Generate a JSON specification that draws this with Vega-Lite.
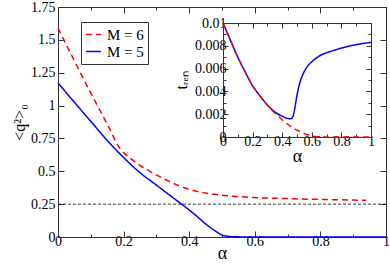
{
  "$schema": "https://vega.github.io/schema/vega-lite/v6.json",
  "autosize": "none",
  "padding": {"left": 58, "top": 7, "right": 4, "bottom": 28},
  "width": 328,
  "height": 230,
  "config": {
    "font": "Liberation Serif, Times New Roman, serif",
    "view": {"stroke": null},
    "axis": {"grid": false, "domainColor": "#333", "tickColor": "#333", "labelColor": "#000", "titleColor": "#000", "labelFont": "Liberation Serif, Times New Roman, serif", "titleFont": "Liberation Serif, Times New Roman, serif", "titleFontWeight": "normal", "labelFlush": false, "labelOverlap": false},
    "legend": {"labelFont": "Liberation Serif, Times New Roman, serif"}
  },
  "datasets": {
    "main": [
      {"alpha": 0, "q": 1.59, "M": "M = 6"},
      {"alpha": 0.05, "q": 1.34, "M": "M = 6"},
      {"alpha": 0.1, "q": 1.095, "M": "M = 6"},
      {"alpha": 0.15, "q": 0.86, "M": "M = 6"},
      {"alpha": 0.19, "q": 0.67, "M": "M = 6"},
      {"alpha": 0.22, "q": 0.6, "M": "M = 6"},
      {"alpha": 0.25, "q": 0.545, "M": "M = 6"},
      {"alpha": 0.28, "q": 0.5, "M": "M = 6"},
      {"alpha": 0.3, "q": 0.472, "M": "M = 6"},
      {"alpha": 0.35, "q": 0.41, "M": "M = 6"},
      {"alpha": 0.4, "q": 0.362, "M": "M = 6"},
      {"alpha": 0.45, "q": 0.335, "M": "M = 6"},
      {"alpha": 0.5, "q": 0.318, "M": "M = 6"},
      {"alpha": 0.6, "q": 0.3, "M": "M = 6"},
      {"alpha": 0.7, "q": 0.292, "M": "M = 6"},
      {"alpha": 0.8, "q": 0.286, "M": "M = 6"},
      {"alpha": 0.9, "q": 0.281, "M": "M = 6"},
      {"alpha": 0.94, "q": 0.279, "M": "M = 6"},
      {"alpha": 0, "q": 1.172, "M": "M = 5"},
      {"alpha": 0.05, "q": 1.025, "M": "M = 5"},
      {"alpha": 0.1, "q": 0.88, "M": "M = 5"},
      {"alpha": 0.15, "q": 0.735, "M": "M = 5"},
      {"alpha": 0.2, "q": 0.605, "M": "M = 5"},
      {"alpha": 0.245, "q": 0.5, "M": "M = 5"},
      {"alpha": 0.3, "q": 0.395, "M": "M = 5"},
      {"alpha": 0.35, "q": 0.3, "M": "M = 5"},
      {"alpha": 0.377, "q": 0.25, "M": "M = 5"},
      {"alpha": 0.42, "q": 0.165, "M": "M = 5"},
      {"alpha": 0.45, "q": 0.1, "M": "M = 5"},
      {"alpha": 0.48, "q": 0.045, "M": "M = 5"},
      {"alpha": 0.5, "q": 0.015, "M": "M = 5"},
      {"alpha": 0.52, "q": 0.005, "M": "M = 5"},
      {"alpha": 0.55, "q": 0.001, "M": "M = 5"},
      {"alpha": 0.6, "q": 0, "M": "M = 5"},
      {"alpha": 1.0, "q": 0, "M": "M = 5"}
    ],
    "inset": [
      {"alpha": 0, "t": 0.01, "M": "M = 5"},
      {"alpha": 0.05, "t": 0.0085, "M": "M = 5"},
      {"alpha": 0.1, "t": 0.007, "M": "M = 5"},
      {"alpha": 0.15, "t": 0.0057, "M": "M = 5"},
      {"alpha": 0.2, "t": 0.0045, "M": "M = 5"},
      {"alpha": 0.25, "t": 0.0036, "M": "M = 5"},
      {"alpha": 0.3, "t": 0.0028, "M": "M = 5"},
      {"alpha": 0.35, "t": 0.0022, "M": "M = 5"},
      {"alpha": 0.4, "t": 0.00182, "M": "M = 5"},
      {"alpha": 0.44, "t": 0.00162, "M": "M = 5"},
      {"alpha": 0.455, "t": 0.0016, "M": "M = 5"},
      {"alpha": 0.465, "t": 0.00166, "M": "M = 5"},
      {"alpha": 0.475, "t": 0.0019, "M": "M = 5"},
      {"alpha": 0.485, "t": 0.0025, "M": "M = 5"},
      {"alpha": 0.495, "t": 0.0033, "M": "M = 5"},
      {"alpha": 0.505, "t": 0.004, "M": "M = 5"},
      {"alpha": 0.52, "t": 0.0048, "M": "M = 5"},
      {"alpha": 0.54, "t": 0.0055, "M": "M = 5"},
      {"alpha": 0.56, "t": 0.006, "M": "M = 5"},
      {"alpha": 0.6, "t": 0.0066, "M": "M = 5"},
      {"alpha": 0.65, "t": 0.0071, "M": "M = 5"},
      {"alpha": 0.7, "t": 0.0074, "M": "M = 5"},
      {"alpha": 0.75, "t": 0.0076, "M": "M = 5"},
      {"alpha": 0.8, "t": 0.0078, "M": "M = 5"},
      {"alpha": 0.9, "t": 0.0081, "M": "M = 5"},
      {"alpha": 1.0, "t": 0.0083, "M": "M = 5"},
      {"alpha": 0, "t": 0.01, "M": "M = 6"},
      {"alpha": 0.05, "t": 0.0085, "M": "M = 6"},
      {"alpha": 0.1, "t": 0.007, "M": "M = 6"},
      {"alpha": 0.15, "t": 0.0057, "M": "M = 6"},
      {"alpha": 0.2, "t": 0.0045, "M": "M = 6"},
      {"alpha": 0.25, "t": 0.0036, "M": "M = 6"},
      {"alpha": 0.3, "t": 0.0028, "M": "M = 6"},
      {"alpha": 0.35, "t": 0.0021, "M": "M = 6"},
      {"alpha": 0.4, "t": 0.0015, "M": "M = 6"},
      {"alpha": 0.45, "t": 0.001, "M": "M = 6"},
      {"alpha": 0.5, "t": 0.0006, "M": "M = 6"},
      {"alpha": 0.55, "t": 0.0003, "M": "M = 6"},
      {"alpha": 0.6, "t": 0.0001, "M": "M = 6"},
      {"alpha": 0.65, "t": 0, "M": "M = 6"},
      {"alpha": 1.0, "t": 0, "M": "M = 6"}
    ],
    "ref": [{"q": 0.25}]
  },
  "layer": [
    {
      "data": {"name": "ref"},
      "mark": {"type": "rule", "strokeDash": [3, 2], "strokeWidth": 0.8, "color": "#000"},
      "encoding": {
        "x": {"datum": 0, "type": "quantitative", "scale": {"domain": [0, 1], "nice": false, "zero": false},
          "axis": {"orient": "top", "values": [0, 0.1, 0.2, 0.3, 0.4, 0.5, 0.6, 0.7, 0.8, 0.9, 1], "labels": false, "title": null,
            "tickSize": {"condition": {"test": "round(datum.value*10)%2==1", "value": -3}, "value": -6}}},
        "x2": {"datum": 1},
        "y": {"field": "q", "type": "quantitative", "scale": {"domain": [0, 1.75], "nice": false, "zero": false},
          "axis": {"orient": "right", "values": [0, 0.25, 0.5, 0.75, 1, 1.25, 1.5, 1.75], "labels": false, "title": null, "tickSize": -6}}
      }
    },
    {
      "data": {"name": "main"},
      "mark": {"type": "line", "strokeWidth": 1.5, "interpolate": "monotone"},
      "encoding": {
        "x": {"field": "alpha", "type": "quantitative", "scale": {"domain": [0, 1], "nice": false, "zero": false},
          "axis": {"orient": "bottom", "values": [0, 0.1, 0.2, 0.3, 0.4, 0.5, 0.6, 0.7, 0.8, 0.9, 1], "format": ".1~f",
            "labelExpr": "round(datum.value*10)%2==1 ? '' : datum.label",
            "tickSize": {"condition": {"test": "round(datum.value*10)%2==1", "value": -3}, "value": -6},
            "labelPadding": 3, "labelFontSize": 14, "title": "α", "titleFontSize": 18, "titlePadding": -7}},
        "y": {"field": "q", "type": "quantitative", "scale": {"domain": [0, 1.75], "nice": false, "zero": false},
          "axis": {"orient": "left", "values": [0, 0.25, 0.5, 0.75, 1, 1.25, 1.5, 1.75], "format": ".2~f", "tickSize": -6,
            "labelPadding": 9, "labelFontSize": 14, "title": "<q²>₀", "titleFontSize": 16, "titlePadding": 3}},
        "color": {"field": "M", "type": "nominal", "scale": {"domain": ["M = 6", "M = 5"], "range": ["#ff0000", "#0000ff"]},
          "legend": {"orient": "none", "legendX": 23, "legendY": 15, "title": null, "labelFontSize": 15,
            "strokeColor": "#333", "fillColor": "#fff", "padding": 4, "symbolType": "stroke", "symbolSize": 220, "symbolStrokeWidth": 1.5, "rowPadding": 0, "labelOffset": 5}},
        "strokeDash": {"field": "M", "type": "nominal", "scale": {"domain": ["M = 6", "M = 5"], "range": [[6, 4], [1, 0]]},
          "legend": {"orient": "none", "legendX": 23, "legendY": 15, "title": null, "labelFontSize": 15,
            "strokeColor": "#333", "fillColor": "#fff", "padding": 4, "symbolType": "stroke", "symbolSize": 220, "symbolStrokeWidth": 1.5, "rowPadding": 0, "labelOffset": 5}}
      }
    },
    {
      "data": {"name": "inset"},
      "transform": [{"filter": "datum.M == 'M = 5'"}],
      "mark": {"type": "line", "strokeWidth": 1.5, "interpolate": "monotone"},
      "encoding": {
        "x": {"field": "alpha", "type": "quantitative", "scale": {"domain": [0, 1], "nice": false, "zero": false, "range": [165, 313]},
          "axis": {"orient": "bottom", "offset": -100, "values": [0, 0.1, 0.2, 0.3, 0.4, 0.5, 0.6, 0.7, 0.8, 0.9, 1], "format": ".1~f",
            "labelExpr": "round(datum.value*10)%2==1 ? '' : datum.label",
            "tickSize": {"condition": {"test": "round(datum.value*10)%2==1", "value": -3}, "value": -5},
            "labelPadding": 2, "labelFontSize": 14, "title": "α", "titleFontSize": 18, "titlePadding": -3}},
        "y": {"field": "t", "type": "quantitative", "scale": {"domain": [0, 0.01], "nice": false, "zero": false, "range": [130, 16]},
          "axis": {"orient": "left", "offset": -165, "values": [0, 0.001, 0.002, 0.003, 0.004, 0.005, 0.006, 0.007, 0.008, 0.009, 0.01], "format": ".3~f",
            "labelExpr": "round(datum.value*1000)%2==1 ? '' : datum.label",
            "tickSize": {"condition": {"test": "round(datum.value*1000)%2==1", "value": -3}, "value": -5},
            "labelPadding": 2, "labelFontSize": 14, "title": "tᵣₑₙ", "titleFontSize": 16, "titlePadding": 5}},
        "color": {"field": "M", "type": "nominal"},
        "strokeDash": {"field": "M", "type": "nominal"}
      }
    },
    {
      "data": {"name": "inset"},
      "transform": [{"filter": "datum.M == 'M = 6'"}],
      "mark": {"type": "line", "strokeWidth": 1.5, "interpolate": "monotone"},
      "encoding": {
        "x": {"field": "alpha", "type": "quantitative", "scale": {"domain": [0, 1], "nice": false, "zero": false, "range": [165, 313]},
          "axis": {"orient": "top", "offset": -16, "values": [0, 0.1, 0.2, 0.3, 0.4, 0.5, 0.6, 0.7, 0.8, 0.9, 1], "labels": false, "title": null,
            "tickSize": {"condition": {"test": "round(datum.value*10)%2==1", "value": -3}, "value": -5}}},
        "y": {"field": "t", "type": "quantitative", "scale": {"domain": [0, 0.01], "nice": false, "zero": false, "range": [130, 16]},
          "axis": {"orient": "right", "offset": -15, "values": [0, 0.001, 0.002, 0.003, 0.004, 0.005, 0.006, 0.007, 0.008, 0.009, 0.01], "labels": false, "title": null,
            "tickSize": {"condition": {"test": "round(datum.value*1000)%2==1", "value": -3}, "value": -5}}},
        "color": {"field": "M", "type": "nominal"},
        "strokeDash": {"field": "M", "type": "nominal"}
      }
    }
  ],
  "resolve": {"scale": {"x": "independent", "y": "independent"}, "axis": {"x": "independent", "y": "independent"}}
}
